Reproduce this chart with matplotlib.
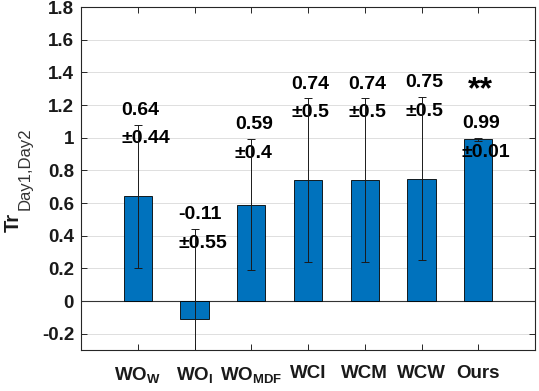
import matplotlib
matplotlib.use("Agg")
import matplotlib.pyplot as plt
import numpy as np

categories = [r"WO$_\mathbf{W}$", r"WO$_\mathbf{I}$", r"WO$_\mathbf{MDF}$", "WCI", "WCM", "WCW", "Ours"]
means = [0.64, -0.11, 0.59, 0.74, 0.74, 0.75, 0.99]
stds = [0.44, 0.55, 0.40, 0.50, 0.50, 0.50, 0.01]
mean_labels = ["0.64", "-0.11", "0.59", "0.74", "0.74", "0.75", "0.99"]
std_labels = ["0.44", "0.55", "0.4", "0.5", "0.5", "0.5", "0.01"]
yticks = [-0.2, 0, 0.2, 0.4, 0.6, 0.8, 1, 1.2, 1.4, 1.6, 1.8]
ytick_labels = ["-0.2", "0", "0.2", "0.4", "0.6", "0.8", "1", "1.2", "1.4", "1.6", "1.8"]

plt.rcParams['font.family'] = ['Liberation Sans', 'DejaVu Sans']
plt.rcParams['mathtext.fontset'] = 'custom'
plt.rcParams['mathtext.bf'] = 'Liberation Sans:bold'
plt.rcParams['mathtext.rm'] = 'Liberation Sans'
plt.rcParams['mathtext.it'] = 'Liberation Sans:italic'

W, H = 539, 391
fig = plt.figure(figsize=(W / 100, H / 100), dpi=100)
ax = fig.add_axes([81 / W, 1 - 350 / H, (535 - 81) / W, (350 - 7) / H])

x = np.arange(1, len(categories) + 1)
ax.set_axisbelow(True)
ax.grid(axis='y', color='#dedede', linewidth=0.7)
ax.bar(x, means, width=0.5, color='#0072BD', edgecolor='black', linewidth=0.6, zorder=2)
ax.axhline(0, color='#333333', linewidth=0.8, zorder=1.5)
ax.errorbar(x, means, yerr=stds, fmt='none', ecolor='#1a1a1a', elinewidth=0.7,
            capsize=3, capthick=0.7, zorder=5)

for xi, m, s, ml, sl in zip(x, means, stds, mean_labels, std_labels):
    ax.text(xi - 0.29, m + s + 0.0, ml + "\n\u00b1" + sl, ha='left', va='center',
            multialignment='left', linespacing=1.9, fontsize=14, fontweight='bold',
            color='black', zorder=4)

ax.text(x[-1] + 0.03, 1.29, "**", ha='center', va='center', fontsize=23, fontweight='bold')

ax.set_xlim(0, 8)
ax.set_ylim(-0.3, 1.8)
ax.set_xticks(x)
ax.set_xticklabels(categories, fontsize=13.5, fontweight='bold')
ax.set_yticks(yticks)
ax.set_yticklabels(ytick_labels, fontsize=13.5, fontweight='bold')
ax.tick_params(direction='in', length=4, width=0.7, top=True, right=True,
               colors='#262626', labelcolor='#1a1a1a')
ax.tick_params(axis='x', pad=11)
ax.tick_params(axis='y', pad=5)
for sp in ax.spines.values():
    sp.set_color('#262626')
    sp.set_linewidth(0.8)

fig.text(13 / W, 1 - 232 / H, "Tr", rotation=90, ha='center', va='bottom',
         fontsize=14.5, fontweight='bold', color='#1a1a1a')
fig.text(25 / W, 1 - 210 / H, "Day1,Day2", rotation=90, ha='center', va='bottom',
         fontsize=12, color='#333333')

fig.savefig("out.png", dpi=100)
